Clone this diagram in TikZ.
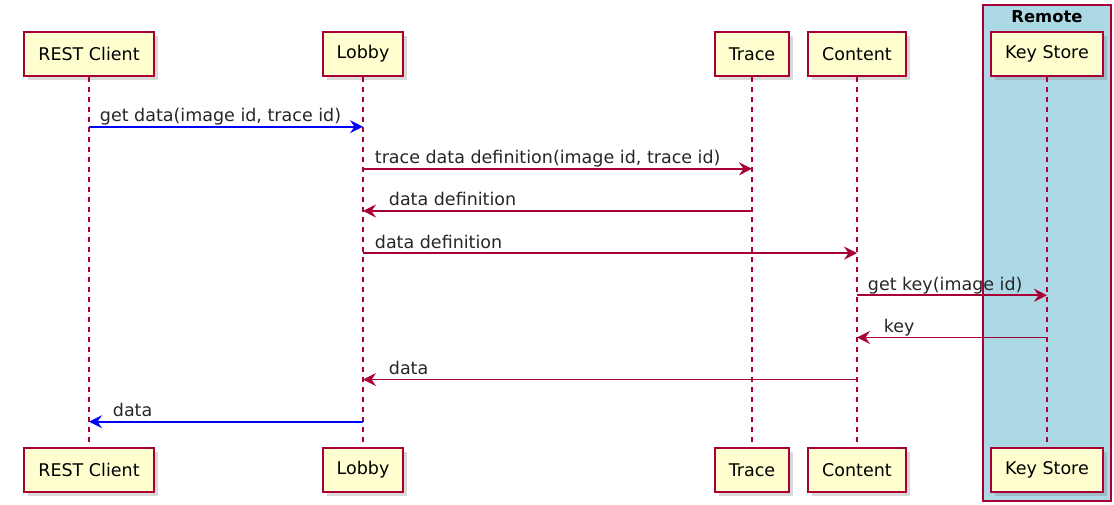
\documentclass[tikz,border=0pt]{standalone}
\usepackage{fontspec}
\setmainfont{DejaVu Sans}
\usetikzlibrary{arrows.meta, positioning, shadows}
\definecolor{plumred}{HTML}{A80036}
\definecolor{partfill}{HTML}{FEFECE}
\definecolor{remoteblue}{HTML}{ADD8E6}
\tikzset{ % global config
    x=1pt, y=1pt, % one unit is one point
    part/.style={draw=plumred, line width=2pt, fill=partfill, minimum height=44pt,
        inner xsep=14pt, font=\fontsize{17.5}{20}\selectfont,
        drop shadow={shadow xshift=4pt, shadow yshift=-4pt, opacity=0.3}}, % participant boxes
    life/.style={plumred, line width=1.5pt, dash pattern=on 5pt off 5pt}, % lifelines
    msg/.style={plumred, line width=1.8pt, -{Stealth[length=13pt, width=13pt, inset=4.5pt]}}, % messages
    lbl/.style={anchor=base west, inner sep=0pt, text=black!85, yshift=5pt,
        font=\fontsize{17.5}{20}\selectfont}, % message labels
}
\begin{document}
\begin{tikzpicture}
    \useasboundingbox (0,0) rectangle (1114,-504);

    % remote group
    \draw[plumred, line width=1.5pt, fill=remoteblue] (983,-5) rectangle (1111,-501);
    \node[font=\fontsize{16.4}{19}\selectfont\bfseries] (remote) at (1047,-17) {Remote};

    % participants, top row
    \node[part] (client) at (89,-54) {REST Client};
    \node[part] (lobby) at (363,-54) {Lobby};
    \node[part] (trace) at (752,-54) {Trace};
    \node[part] (content) at (857,-54) {Content};
    \node[part] (keystore) at (1047,-54) {Key Store};

    % participants, bottom row
    \node[part, below=370pt of client] (client2) {REST Client};
    \node[part, below=370pt of lobby] (lobby2) {Lobby};
    \node[part, below=370pt of trace] (trace2) {Trace};
    \node[part, below=370pt of content] (content2) {Content};
    \node[part, below=370pt of keystore] (keystore2) {Key Store};

    % lifelines
    \draw[life] (client) -- (client2);
    \draw[life] (lobby) -- (lobby2);
    \draw[life] (trace) -- (trace2);
    \draw[life] (content) -- (content2);
    \draw[life] (keystore) -- (keystore2);

    % message rows
    \foreach \k in {1,...,8}
        \coordinate (m\k) at (0,{-126.7-42.14*(\k-1)});

    \draw[msg, blue] (client |- m1) -- node[lbl, pos=0, xshift=10pt] {get data(image id, trace id)} (lobby |- m1);
    \draw[msg] (lobby |- m2) -- node[lbl, pos=0, xshift=11pt] {trace data definition(image id, trace id)} (trace |- m2);
    \draw[msg] (trace |- m3) -- node[lbl, pos=1, xshift=25pt] {data definition} (lobby |- m3);
    \draw[msg] (lobby |- m4) -- node[lbl, pos=0, xshift=11pt] {data definition} (content |- m4);
    \draw[msg] (content |- m5) -- node[lbl, pos=0, xshift=10pt] {get key(image id)} (keystore |- m5);
    \draw[msg] (keystore |- m6) -- node[lbl, pos=1, xshift=26pt] {key} (content |- m6);
    \draw[msg] (content |- m7) -- node[lbl, pos=1, xshift=25pt] {data} (lobby |- m7);
    \draw[msg, blue] (lobby |- m8) -- node[lbl, pos=1, xshift=23pt] {data} (client |- m8);

\end{tikzpicture}
\end{document}
